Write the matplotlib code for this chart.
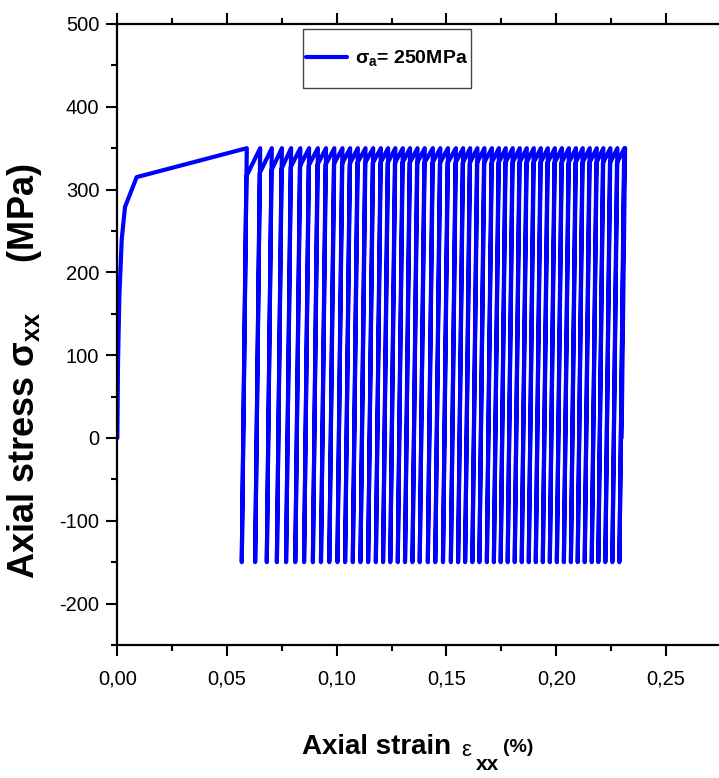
import matplotlib
matplotlib.use("Agg")
import matplotlib.pyplot as plt
from matplotlib.ticker import MultipleLocator, FuncFormatter
from matplotlib.patches import Rectangle

plt.rcParams['mathtext.fontset'] = 'custom'
plt.rcParams['mathtext.rm'] = 'Liberation Sans:bold'
plt.rcParams['mathtext.it'] = 'Liberation Sans:bold'
plt.rcParams['mathtext.bf'] = 'Liberation Sans:bold'

NARROW = ['Liberation Sans Narrow', 'Liberation Sans', 'DejaVu Sans']
WIDE = ['Liberation Sans', 'DejaVu Sans']

# ---- data (strain in %, stress in MPa) ----
mono_strain = [0.0, 0.0003, 0.0009, 0.0020, 0.0035, 0.0088, 0.0590]
mono_stress = [0, 90, 170, 240, 279, 315, 350]

valley_strain = [0.0567, 0.0628, 0.0681, 0.0727, 0.0769, 0.0811, 0.0851, 0.0891, 0.0928, 0.0966,
                 0.1003, 0.1038, 0.1073, 0.1108, 0.1143, 0.1178, 0.1211, 0.1244, 0.1278, 0.1311,
                 0.1345, 0.1378, 0.1415, 0.1449, 0.1484, 0.1520, 0.1553, 0.1585, 0.1618, 0.1650,
                 0.1684, 0.1716, 0.1747, 0.1779, 0.1811, 0.1843, 0.1875, 0.1907, 0.1939, 0.1971,
                 0.2003, 0.2035, 0.2067, 0.2098, 0.2130, 0.2162, 0.2192, 0.2224, 0.2256, 0.2288]
knee_strain = [0.0588, 0.0649, 0.0702, 0.0748, 0.0790, 0.0832, 0.0872, 0.0912, 0.0949, 0.0987,
               0.1024, 0.1059, 0.1094, 0.1129, 0.1164, 0.1199, 0.1232, 0.1265, 0.1299, 0.1332,
               0.1366, 0.1399, 0.1436, 0.1470, 0.1505, 0.1541, 0.1574, 0.1606, 0.1639, 0.1671,
               0.1705, 0.1737, 0.1768, 0.1800, 0.1832, 0.1864, 0.1896, 0.1928, 0.1960, 0.1992,
               0.2024, 0.2056, 0.2088, 0.2119, 0.2151, 0.2183, 0.2213, 0.2245, 0.2277, 0.2309]
knee_stress = [316, 320, 323, 325, 327, 328, 329, 330, 330, 331,
               331, 331, 332, 332, 332, 332, 332, 332, 332, 332,
               332, 332, 332, 332, 332, 332, 332, 332, 332, 332,
               332, 332, 332, 332, 332, 332, 332, 332, 332, 332,
               332, 332, 332, 332, 332, 332, 332, 332, 332, 332]
peak_strain = [0.0651, 0.0704, 0.0750, 0.0792, 0.0834, 0.0874, 0.0914, 0.0951, 0.0989,
               0.1026, 0.1061, 0.1096, 0.1131, 0.1166, 0.1201, 0.1234, 0.1267, 0.1301, 0.1334,
               0.1368, 0.1401, 0.1438, 0.1472, 0.1507, 0.1543, 0.1576, 0.1608, 0.1641, 0.1673,
               0.1707, 0.1739, 0.1770, 0.1802, 0.1834, 0.1866, 0.1898, 0.1930, 0.1962, 0.1994,
               0.2026, 0.2058, 0.2090, 0.2121, 0.2153, 0.2185, 0.2215, 0.2247, 0.2279, 0.2311,
               0.2314]
sigma_max = 350
sigma_min = -150
end_strain = 0.2298
end_stress = 0

# ---- build path ----
xs = list(mono_strain)
ys = list(mono_stress)
for i in range(len(valley_strain)):
    xs.append(valley_strain[i]); ys.append(sigma_min)
    xs.append(knee_strain[i]); ys.append(knee_stress[i])
    xs.append(peak_strain[i]); ys.append(sigma_max)
xs.append(end_strain); ys.append(end_stress)

fig = plt.figure(figsize=(7.19, 7.78), dpi=100)
ax = fig.add_axes([0.1632, 0.171, 0.8368, 0.7982])

line, = ax.plot(xs, ys, color='#0000FF', lw=3.0, solid_joinstyle='round',
                solid_capstyle='round')

ax.set_xlim(0, 0.2742)
ax.set_ylim(-250, 500)

ax.xaxis.set_major_locator(MultipleLocator(0.05))
ax.xaxis.set_minor_locator(MultipleLocator(0.025))
ax.yaxis.set_major_locator(MultipleLocator(100))
ax.yaxis.set_minor_locator(MultipleLocator(50))
ax.xaxis.set_major_formatter(FuncFormatter(lambda v, p: f'{v:.2f}'.replace('.', ',')))
ax.yaxis.set_major_formatter(FuncFormatter(lambda v, p: f'{int(round(v))}' if v > -250 else ''))

for s in ['left', 'bottom', 'top']:
    ax.spines[s].set_linewidth(1.6)
ax.spines['right'].set_visible(False)

ax.tick_params(which='both', direction='out', width=1.5, top=True, right=False)
ax.tick_params(which='major', length=8)
ax.tick_params(axis='x', which='major', pad=10)
ax.tick_params(axis='y', which='major', pad=5)
ax.tick_params(which='minor', length=4.5)
ax.tick_params(axis='x', which='both', labeltop=False)
for lab in ax.get_xticklabels() + ax.get_yticklabels():
    lab.set_fontfamily(NARROW)
    lab.set_fontsize(14.5)

# legend box (as in the reference, a tall rectangle)
ax.add_patch(Rectangle((0.3086, 0.8969), 0.2792, 0.0950, transform=ax.transAxes,
                       facecolor='white', edgecolor='#444444', lw=1.0, zorder=4))
leg = ax.legend([line], [r'$\sigma_{a}$= 250MPa'], loc='center left',
                bbox_to_anchor=(0.3086, 0.9444), borderaxespad=0,
                prop={'family': NARROW, 'weight': 'bold', 'size': 14},
                frameon=False, handlelength=2.1, handletextpad=0.4,
                borderpad=0.15)
leg.set_zorder(5)

fig.text(25/719, 1 - 371/778, r'Axial stress $\sigma_{xx}$     (MPa)', rotation=90,
         ha='center', va='center', fontsize=26, fontweight='bold', family=WIDE)

fig.text(302/719, 1 - 747/778, 'Axial strain', ha='left', va='center',
         fontsize=20, fontweight='bold', family=NARROW)
fig.text(461/719, 1 - 750/778, 'ε', ha='left', va='center', fontsize=16, family=WIDE)
fig.text(476/719, 1 - 764/778, 'xx', ha='left', va='center', fontsize=15,
         fontweight='bold', family=NARROW)
fig.text(503/719, 1 - 748/778, '(%)', ha='left', va='center', fontsize=14,
         fontweight='bold', family=NARROW)

fig.savefig('out.png', dpi=100)
